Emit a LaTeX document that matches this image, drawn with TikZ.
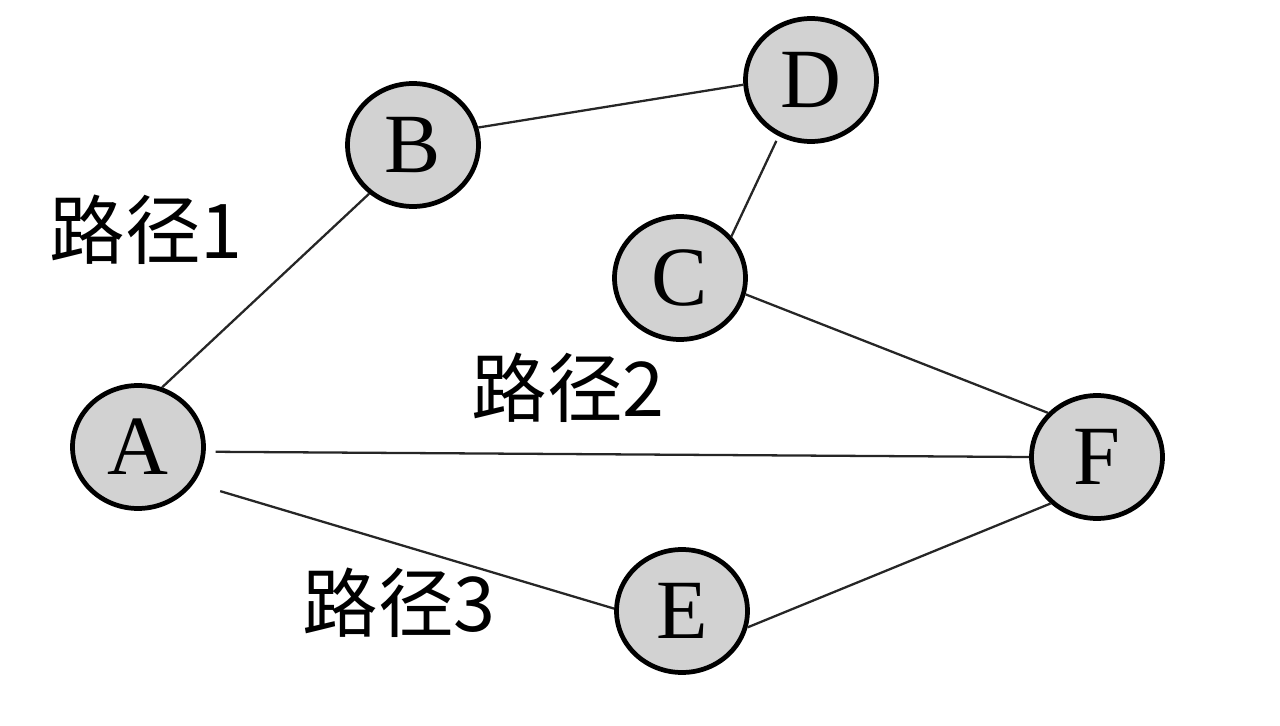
\documentclass[tikz,border=0pt]{standalone}
\usepackage{fontspec}
\setmainfont{Liberation Serif}
\newfontfamily\cjk{Noto Sans CJK SC}
\usetikzlibrary{shapes.geometric}

\begin{document}
\begin{tikzpicture}[x=0.02cm,y=-0.02cm,
  vertex/.style={ellipse,draw=black,line width=2.7pt,fill=gray!35,
    minimum width=2.62cm,minimum height=2.46cm,inner sep=0pt,
    font=\fontsize{48}{50}\selectfont},
  pathlabel/.style={font=\cjk\fontsize{43}{48}\selectfont},
  link/.style={black!85,line width=1.3pt}]

\useasboundingbox (0,0) rectangle (1280,726);

\node[vertex] (A) at (138,447) {A};
\node[vertex] (B) at (413,145) {B};
\node[vertex] (D) at (811,80) {D};
\node[vertex] (C) at (680,278) {C};
\node[vertex] (F) at (1097,457) {F};
\node[vertex] (E) at (682,611) {E};

\node[pathlabel] (p1) at (146,230) {路径1};
\node[pathlabel] (p2) at (568,388) {路径2};
\node[pathlabel] (p3) at (399,603) {路径3};

% route 1
\draw[link] (A.68) -- (B.228);
\draw[link] (B.15) -- (D.184);
\draw[link,shorten <=3pt] (D.240) -- (C.39);
\draw[link] (C.-14) -- (F.138);
% route 2
\draw[link,shorten <=0.2cm] (A.-4) -- (F.180);
% route 3
\draw[link,shorten <=0.55cm] (A.-33) -- (E.178);
\draw[link] (E.-14) -- (F.225);
\end{tikzpicture}
\end{document}
